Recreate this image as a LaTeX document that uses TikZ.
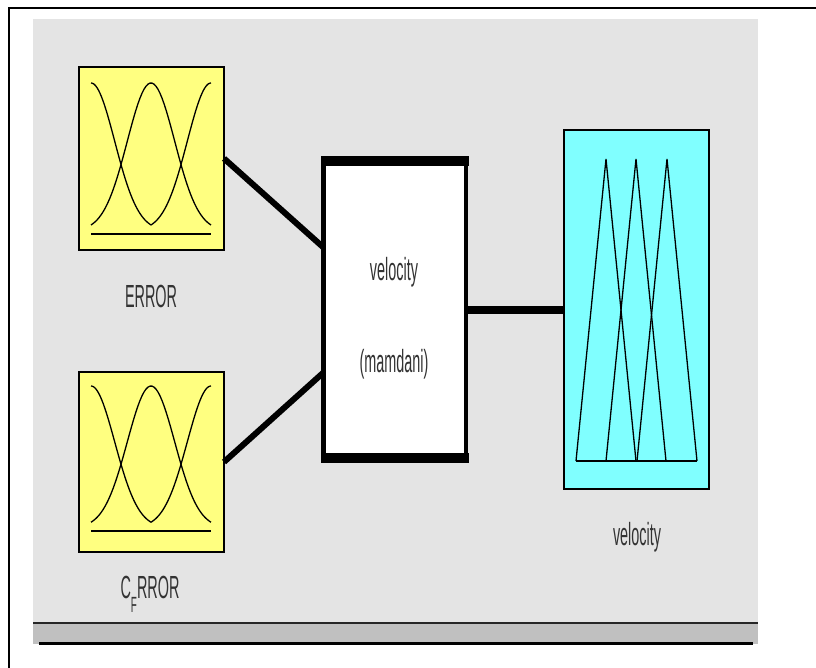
\documentclass[tikz,border=0pt]{standalone}
\usepackage{fontspec}
\setmainfont{Liberation Sans}
\definecolor{fisyellow}{HTML}{FFFF80}
\definecolor{fiscyan}{HTML}{80FFFF}
\definecolor{fisgrey}{HTML}{E4E4E4}
\definecolor{fisband}{HTML}{C0C0C0}
\newcommand{\narrow}[1]{\scalebox{0.45}[1]{#1}}

\begin{document}
\begin{tikzpicture}
  [x=1pt,y=-1pt,
   every node/.style={inner sep=0pt,outer sep=0pt},
   mfbox/.style={draw,line width=1.5pt,minimum width=145pt},
   mfline/.style={line width=1.3pt},
   lbl/.style={font=\fontsize{32}{34}\selectfont,text=black!80}]
  \useasboundingbox (0,0) rectangle (816,668);
  % window
  \fill[fisgrey] (33,19) rectangle (758,623);
  \fill[fisband] (33,623) rectangle (758,644);
  \draw[line width=2.5pt,black!85] (33,623) -- (758,623);
  \draw[line width=3pt] (39,643) -- (753,643);
  \draw[line width=1.5pt] (9,668) -- (9,8) -- (816,8);
  % blocks
  \node[mfbox,fill=fisyellow,minimum height=183pt] (err) at (151.5,158.5) {};
  \node[mfbox,fill=fisyellow,minimum height=180pt] (cerr) at (151.5,462) {};
  \node[draw,line width=4.5pt,fill=white,minimum width=142.5pt,minimum height=297pt] (mam) at (394.75,309.5) {};
  \node[mfbox,fill=fiscyan,minimum height=359pt] (vel) at (636.5,309.5) {};
  \draw[line width=10pt,shorten <=-2.5pt,shorten >=-2.5pt] (mam.north west) -- (mam.north east);
  \draw[line width=10pt,shorten <=-2.5pt,shorten >=-2.5pt] (mam.south west) -- (mam.south east);
  \coordinate (mamin1) at ([yshift=62pt]mam.west);
  \coordinate (mamin2) at ([yshift=-63pt]mam.west);
  % connectors
  \foreach \from/\to in {err.east/mamin1,cerr.east/mamin2}
    \draw[line width=6pt] (\from) -- (\to);
  \draw[line width=8pt] (mam.east) -- (vel.west);
  % input membership functions
  \foreach \top/\bot in {83/231,386/528}
  {
    \draw[mfline] plot[domain=91:151,samples=40] (\x,{\bot-(\bot-\top)*exp(-((\x-91)^2)/1124)});
    \draw[mfline] plot[domain=91:211,samples=60] (\x,{\bot-(\bot-\top)*exp(-((\x-151)^2)/1124)});
    \draw[mfline] plot[domain=151:211,samples=40] (\x,{\bot-(\bot-\top)*exp(-((\x-211)^2)/1124)});
    \draw[line width=2.5pt] (91,\bot+3) -- (211,\bot+3);
  }
  % output membership functions
  \foreach \p in {606,636,667}
    \draw[mfline] (\p-30,461) -- (\p,159) -- (\p+30,461);
  \draw[line width=2.5pt] (576,461) -- (697,461);
  % labels
  \node[lbl] (errlbl) at (151,296) {\narrow{ERROR}};
  \node[lbl] (cerrlbl) at (150,594) {\narrow{C\raisebox{-14pt}{\fontsize{22}{22}\selectfont F}RROR}};
  \node[lbl] (mamname) at (394,272) {\narrow{velocity}};
  \node[lbl] (mamtype) at (394,364) {\narrow{(mamdani)}};
  \node[lbl] (vellbl) at (637,537) {\narrow{velocity}};
\end{tikzpicture}
\end{document}
